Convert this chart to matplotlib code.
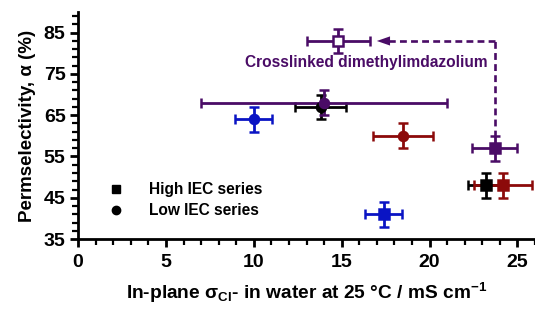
import numpy as np
import matplotlib
matplotlib.use("Agg")
import matplotlib.pyplot as plt
from matplotlib.lines import Line2D

plt.rcParams['font.family'] = ['Liberation Sans', 'DejaVu Sans']
plt.rcParams['font.weight'] = 'bold'
plt.rcParams['mathtext.fontset'] = 'custom'
plt.rcParams['mathtext.rm'] = 'Liberation Sans:bold'
plt.rcParams['mathtext.it'] = 'Liberation Sans:bold'
plt.rcParams['mathtext.bf'] = 'Liberation Sans:bold'

# series: x conductivity, y permselectivity, x error, y error
labels = ["blue low", "blue high", "black low", "purple low", "red low",
          "purple high", "black high", "red high", "crosslinked"]
xs   = [10.0, 17.4, 13.8, 14.0, 18.5, 23.7, 23.2, 24.2, 14.8]
ys   = [64.0, 41.0, 67.0, 68.0, 60.0, 57.0, 48.0, 48.0, 83.0]
xerr = [1.05, 1.05, 1.45, 7.0, 1.7, 1.3, 1.0, 1.65, 1.8]
yerr = [3.0, 3.0, 3.0, 3.0, 3.0, 3.0, 3.0, 3.0, 3.0]
markers = ["o", "s", "o", "o", "o", "s", "s", "s", "s"]

blue = "#0a14c4"
purple = "#4a0c66"
red = "#8c0a0a"
colors = [blue, blue, "black", purple, red, purple, "black", red, purple]
filled = [True] * 8 + [False]

fig = plt.figure(figsize=(5.35, 3.10), dpi=100)
ax = fig.add_axes([0.146, 0.229, 0.854, 0.732])

for i in range(len(xs)):
    ax.errorbar(xs[i], ys[i], xerr=xerr[i], yerr=yerr[i], fmt=markers[i],
                color=colors[i], ms=6.5, mew=1.8,
                mfc=colors[i] if filled[i] else "white",
                elinewidth=2, capsize=3.5, capthick=2, zorder=3)

# dashed arrow from crosslinked precursor to crosslinked membrane
ax.plot([xs[5], xs[5]], [ys[5] + 2.8, ys[8]], color=purple, lw=1.9,
        dashes=(2.6, 1.6))
ax.plot([xs[5], 17.7], [ys[8], ys[8]], color=purple, lw=1.9,
        dashes=(2.6, 1.6))
ax.annotate("", xy=(17.0, ys[8]), xytext=(17.8, ys[8]),
            arrowprops=dict(arrowstyle="-|>,head_length=0.95,head_width=0.33",
                            color=purple, lw=0, shrinkA=0, shrinkB=0,
                            mutation_scale=10))
ax.text(16.4, 77.8, "Crosslinked dimethylimdazolium", color=purple,
        fontsize=11.2, fontweight="bold", ha="center", va="center")

handles = [Line2D([], [], marker="s", color="black", ls="", ms=6),
           Line2D([], [], marker="o", color="black", ls="", ms=6)]
ax.legend(handles, ["High IEC series", "Low IEC series"], frameon=False,
          loc="lower left", bbox_to_anchor=(0.018, 0.03), handletextpad=1.15,
          prop=dict(size=11.2, weight="bold"), labelspacing=0.4)

ax.set_xlim(0, 26)
ax.set_ylim(35, 90)
ax.set_xticks([0, 5, 10, 15, 20, 25])
ax.set_xticks(np.arange(0, 27, 1), minor=True)
ax.set_yticks([35, 45, 55, 65, 75, 85])
ax.set_yticks(np.arange(35, 90, 2), minor=True)
for s in ["top", "right"]:
    ax.spines[s].set_visible(False)
for s in ["left", "bottom"]:
    ax.spines[s].set_linewidth(2)
ax.tick_params(which="major", length=6, width=2, labelsize=14, pad=3)
ax.tick_params(axis="x", which="major", pad=5)
ax.tick_params(which="minor", length=4, width=1.6)

ax.set_ylabel("Permselectivity, α (%)", fontsize=13.5, fontweight="bold",
              labelpad=6)
ax.set_xlabel(r"In-plane σ$_{\mathrm{Cl}}$- in water at 25 °C / mS cm$^{\mathrm{-1}}$",
              fontsize=13.8, fontweight="bold", labelpad=7)

fig.savefig("out.png", dpi=100)
